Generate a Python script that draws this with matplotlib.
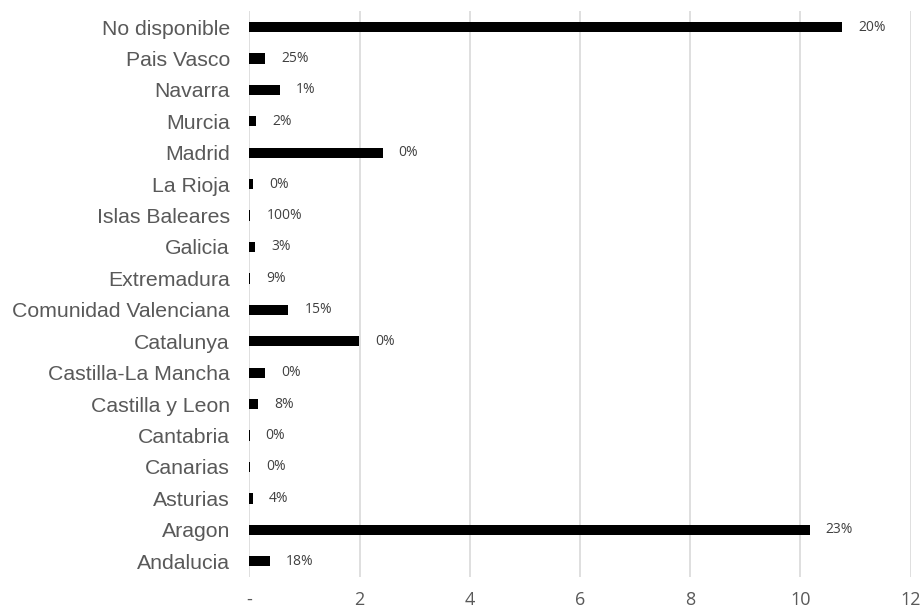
import matplotlib.pyplot as plt

# ===== Data (bottom to top) =====
regions = ['Andalucia', 'Aragon', 'Asturias', 'Canarias', 'Cantabria',
           'Castilla y Leon', 'Castilla-La Mancha', 'Catalunya',
           'Comunidad Valenciana', 'Extremadura', 'Galicia', 'Islas Baleares',
           'La Rioja', 'Madrid', 'Murcia', 'Navarra', 'Pais Vasco',
           'No disponible']
values = [0.37, 10.17, 0.06, 0.01, 0.005, 0.16, 0.29, 1.99,
          0.71, 0.02, 0.11, 0.02, 0.07, 2.42, 0.12, 0.56, 0.285, 10.76]
pct_labels = ['18%', '23%', '4%', '0%', '0%', '8%', '0%', '0%',
              '15%', '9%', '3%', '100%', '0%', '0%', '2%', '1%', '25%', '20%']
xticks = [0, 2, 4, 6, 8, 10, 12]
xtick_labels = ['-', '2', '4', '6', '8', '10', '12']

# ===== Plot =====
fig = plt.figure(figsize=(9.24, 6.14), dpi=100)
ax = fig.add_axes([0.2698, 0.0603, 0.7158, 0.9213])

y = list(range(len(regions)))
ax.barh(y, values, height=0.33, color='black', zorder=3)

for yi, v, lab in zip(y, values, pct_labels):
    ax.annotate(lab, xy=(v, yi), xytext=(11.5, 0), textcoords='offset points',
                va='center', ha='left', fontsize=10, color='#404040',
                family='Open Sans')

ax.set_xlim(0, 12)
ax.set_ylim(-0.5, len(regions) - 0.5)
ax.set_yticks(y)
ax.set_yticklabels(regions, fontsize=15.3, color='#595959', family='Liberation Sans')
ax.set_xticks(xticks)
ax.set_xticklabels(xtick_labels, fontsize=13, color='#595959', family='Open Sans')
ax.tick_params(axis='both', length=0)
ax.tick_params(axis='x', pad=10)
ax.tick_params(axis='y', pad=14)

ax.grid(axis='x', color='#D9D9D9', linewidth=1.2, zorder=0)
for s in ax.spines.values():
    s.set_visible(False)

fig.savefig('out.png', dpi=100)
